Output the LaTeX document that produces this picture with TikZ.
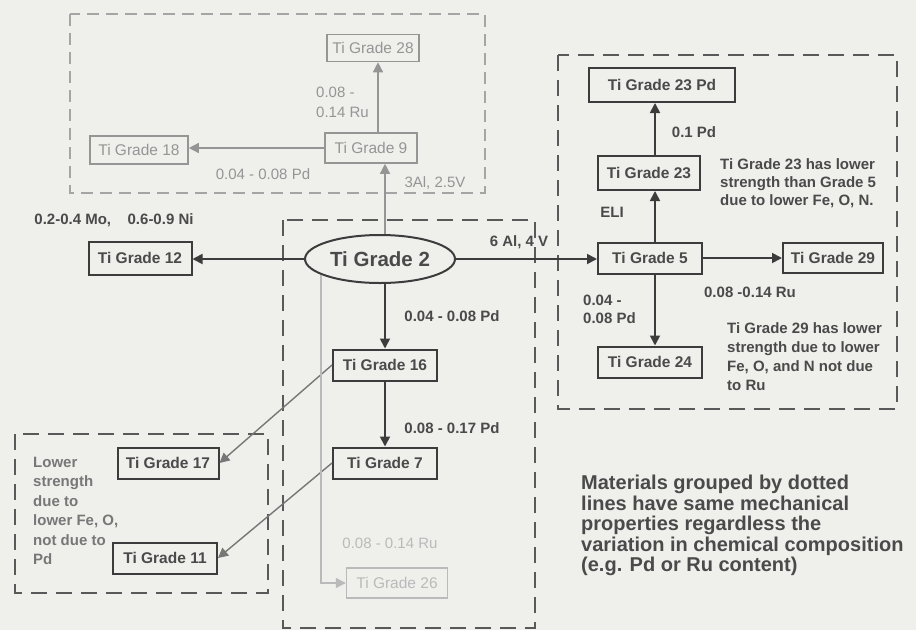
\documentclass[tikz,border=0pt]{standalone}
\usepackage{fontspec}
\setmainfont{Liberation Sans}
\usetikzlibrary{arrows.meta,shapes.geometric}
\definecolor{bg}{HTML}{EFEFEC}
\definecolor{dk}{HTML}{3C3C3C}
\definecolor{tx}{HTML}{4A4A4A}
\definecolor{lt}{HTML}{959595}
\definecolor{vlt}{HTML}{BABABA}
\definecolor{md}{HTML}{777777}
\tikzset{
 box/.style={draw=dk, line width=2pt, text=tx, font=\fontsize{15.5}{17}\selectfont\bfseries, minimum width=104pt, minimum height=31pt, inner sep=2pt},
 lbox/.style={box, draw=lt, line width=1.6pt, text=lt, font=\fontsize{15.5}{17}\selectfont},
 vbox/.style={box, draw=vlt, line width=1.4pt, text=vlt, font=\fontsize{15.5}{17}\selectfont},
 ell/.style={ellipse, draw=dk, line width=2pt, text=tx, font=\fontsize{20.5}{22}\selectfont\bfseries, minimum width=150pt, minimum height=48pt, inner sep=0pt},
 arr/.style={draw=dk, line width=1.8pt, -{Triangle[length=10pt,width=10pt]}},
 larr/.style={arr, draw=lt, line width=1.4pt},
 varr/.style={arr, draw=vlt, line width=1.3pt},
 garr/.style={arr, draw=md, line width=1.4pt},
 lab/.style={text=tx, font=\fontsize{15}{17}\selectfont\bfseries, inner sep=0pt},
 llab/.style={lab, text=lt, font=\fontsize{15}{17}\selectfont},
 vlab/.style={lab, text=vlt, font=\fontsize{15}{17}\selectfont},
 grp/.style={draw=dk!85, line width=2pt, dash pattern=on 16pt off 9pt},
 lgrp/.style={draw=lt!85, line width=1.3pt, dash pattern=on 12pt off 7pt},
}
\begin{document}
\begin{tikzpicture}[x=1pt,y=-1pt]
\fill[bg] (0,0) rectangle (916,630);
\useasboundingbox (0,0) rectangle (916,630);
% groups
\draw[lgrp] (70,14) rectangle (485,193);
\draw[grp] (283,220) rectangle (535,628);
\draw[grp] (558,55) rectangle (897,409);
\draw[grp] (15,434) rectangle (268,593);
% nodes
\node[ell] (e2) at (380,259) {Ti Grade 2};
\node[box, minimum width=103pt, minimum height=33pt] (g12) at (140,258) {Ti Grade 12};
\node[lbox, minimum width=92pt, minimum height=27pt] (g28) at (373,48) {Ti Grade 28};
\node[lbox, minimum width=92pt, minimum height=30pt] (g9) at (371,148) {Ti Grade 9};
\node[lbox, minimum width=98pt, minimum height=28pt] (g18) at (139,150) {Ti Grade 18};
\node[box] (g16) at (385,365) {Ti Grade 16};
\node[box] (g7) at (385,463) {Ti Grade 7};
\node[vbox, minimum width=101pt, minimum height=30pt] (g26) at (397,583) {Ti Grade 26};
\node[box, minimum width=101pt] (g17) at (168,463) {Ti Grade 17};
\node[box] (g11) at (165,558) {Ti Grade 11};
\node[box, minimum width=146pt, minimum height=34pt] (g23pd) at (662,85) {Ti Grade 23 Pd};
\node[box, minimum width=102pt, minimum height=34pt] (g23) at (649,173) {Ti Grade 23};
\node[box] (g5) at (650,258) {Ti Grade 5};
\node[box, minimum width=100pt, minimum height=30pt] (g29) at (833,258) {Ti Grade 29};
\node[box] (g24) at (650,362) {Ti Grade 24};
% connectors
\draw[arr] (e2.west) -- (e2.west -| g12.east);
\draw[arr] (e2.east) -- (e2.east -| g5.west);
\draw[larr] ([xshift=5pt]e2.north) -- ([xshift=5pt]e2.north |- g9.south);
\draw[larr] ([xshift=7pt]g9.north) -- ([xshift=7pt]g9.north |- g28.south);
\draw[larr] (g9.west) -- (g9.west -| g18.east);
\draw[arr] (e2.south -| g16) -- (g16.north);
\draw[arr] (g16) -- (g7);
\draw[garr] (g16.west) -- (g17.east);
\draw[garr] (g7.west) -- (g11.east);
\draw[varr] (e2.195) |- (g26.west);
\draw[arr] ([xshift=5pt]g5.north) -- ([xshift=5pt]g5.north |- g23.south);
\draw[arr] ([xshift=6pt]g23.north) -- ([xshift=6pt]g23.north |- g23pd.south);
\draw[arr] (g5.east) -- (g29.west);
\draw[arr] ([xshift=5pt]g5.south) -- ([xshift=5pt]g5.south |- g24.north);
% labels
\node[lab] (l1) at (114,220) {0.2-0.4 Mo,\hspace{1.1em}0.6-0.9 Ni};
\node[lab] (l2) at (519,242) {6 Al, 4 V};
\node[llab] (l3) at (435,183) {3Al, 2.5V};
\node[llab, align=left, anchor=west, font=\fontsize{15}{20}\selectfont] (l4) at (316,102) {0.08 -\\0.14 Ru};
\node[llab] (l5) at (263,174) {0.04 - 0.08 Pd};
\node[lab] (l6) at (452,316) {0.04 - 0.08 Pd};
\node[lab] (l7) at (452,428) {0.08 - 0.17 Pd};
\node[vlab] (l8) at (390,543) {0.08 - 0.14 Ru};
\node[lab] (l9) at (694,132) {0.1 Pd};
\node[lab] (l10) at (612,212) {ELI};
\node[lab] (l11) at (750,292) {0.08 -0.14 Ru};
\node[lab, align=left, anchor=west, font=\fontsize{15}{18}\selectfont\bfseries] (l12) at (583,309) {0.04 -\\0.08 Pd};
% notes
\node[lab, align=left, anchor=north west, font=\fontsize{15}{18}\selectfont\bfseries] (n1) at (720,158) {Ti Grade 23 has lower\\strength than Grade 5\\due to lower Fe, O, N.};
\node[lab, align=left, anchor=north west, font=\fontsize{15}{19}\selectfont\bfseries] (n2) at (727,322) {Ti Grade 29 has lower\\strength due to lower\\Fe, O, and N not due\\to Ru};
\node[lab, text=md, align=left, anchor=north west, font=\fontsize{15}{19.4}\selectfont\bfseries] (n3) at (33,457) {Lower\\strength\\due to\\lower Fe, O,\\not due to\\Pd};
\node[lab, align=left, anchor=north west, font=\fontsize{20}{20.5}\selectfont\bfseries] (n4) at (581,475) {Materials grouped by dotted\\lines have same mechanical\\properties regardless the\\variation in chemical composition\\(e.g. Pd or Ru content)};
\end{tikzpicture}
\end{document}
